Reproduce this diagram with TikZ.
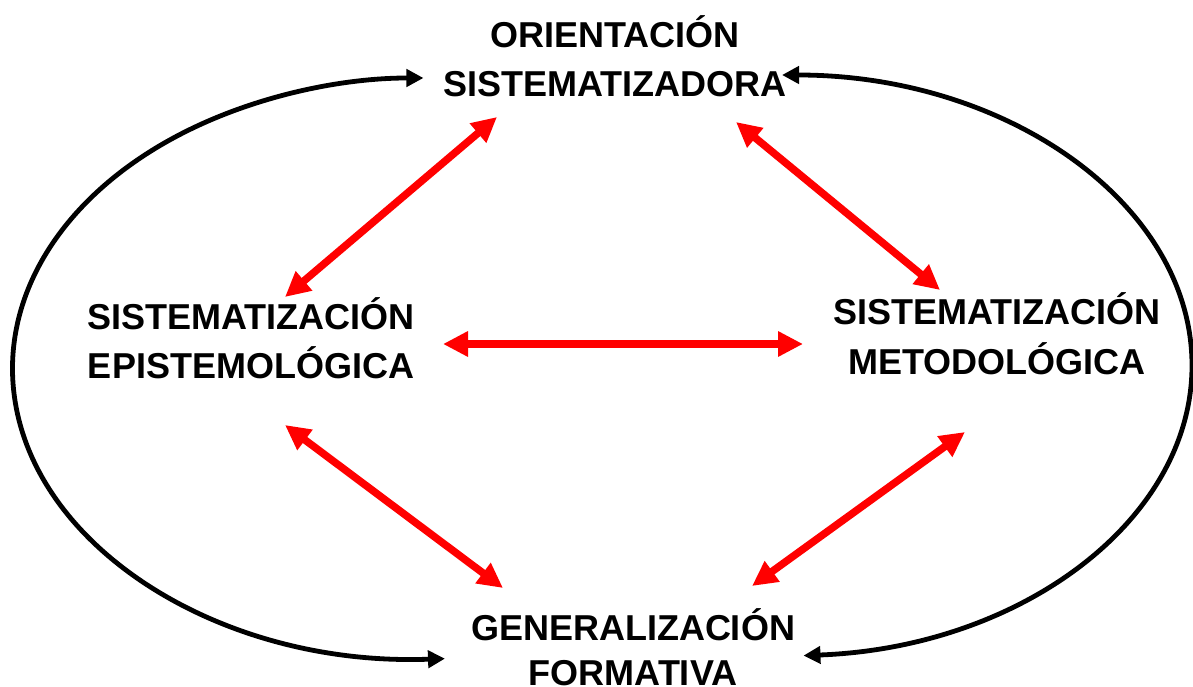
\documentclass[tikz,border=0pt]{standalone}
\usepackage{fontspec}
\setmainfont{Liberation Sans}
\usetikzlibrary{arrows.meta}
\tikzset{
  lbl/.style={anchor=base, inner sep=0pt, font=\bfseries\fontsize{36}{43}\selectfont},
  blk/.style={line width=4.8pt, black, {Triangle[length=17pt,width=17pt]}-{Triangle[length=17pt,width=17pt]}},
  rel/.style={line width=7.5pt, red, {Triangle[length=25pt,width=24pt]}-{Triangle[length=25pt,width=24pt]}}
}
\begin{document}
\begin{tikzpicture}[x=1pt,y=1pt]
\useasboundingbox (0,0) rectangle (1193,686);
% labels
\node[lbl] (o1) at (615,638) {ORIENTACIÓN};
\node[lbl] (o2) at (615,589) {SISTEMATIZADORA};
\node[lbl] (e1) at (251,356) {SISTEMATIZACIÓN};
\node[lbl] (e2) at (251,308) {EPISTEMOLÓGICA};
\node[lbl] (m1) at (997,361) {SISTEMATIZACIÓN};
\node[lbl] (m2) at (997,311) {METODOLÓGICA};
\node[lbl] (g1) at (633,46) {GENERALIZACIÓN};
\node[lbl] (g2) at (633,1) {FORMATIVA};
% connector end points
\coordinate (lb) at (445,27.4);
\coordinate (rt) at (782,611);
\coordinate (oe) at (497,569);
\coordinate (eo) at (285,389);
\coordinate (om) at (736,564);
\coordinate (mo) at (940,396);
\coordinate (em) at (443,342);
\coordinate (me) at (803,342);
\coordinate (eg) at (285,261);
\coordinate (ge) at (503,98);
\coordinate (mg) at (965,254);
\coordinate (gm) at (752,100);
% outer arcs
\draw[blk] (lb) arc[start angle=273, end angle=90, x radius=411, y radius=290.5];
\draw[blk] (rt) arc[start angle=90, end angle=-87, x radius=410, y radius=290.5];
% red relations
\draw[rel] (oe) -- (eo);
\draw[rel] (om) -- (mo);
\draw[rel] (em) -- (me);
\draw[rel] (eg) -- (ge);
\draw[rel] (mg) -- (gm);
\end{tikzpicture}
\end{document}
